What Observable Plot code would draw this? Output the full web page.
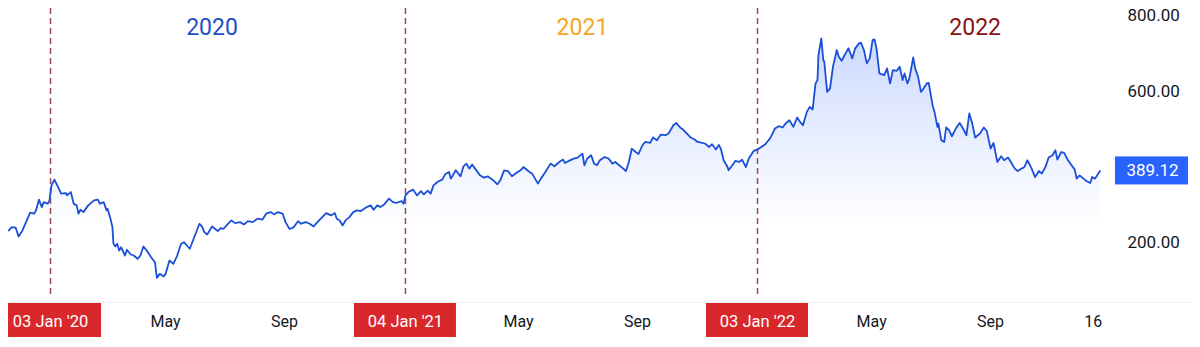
<!DOCTYPE html>
<html><head><meta charset="utf-8">
<script src="https://cdn.jsdelivr.net/npm/d3@7"></script>
<script src="https://cdn.jsdelivr.net/npm/@observablehq/plot@0.6"></script>
<style>
html,body{margin:0;padding:0;background:#fff;}
#chart{width:1200px;height:347px;overflow:hidden;}
</style></head><body><div id="chart"></div>
<script>
const dates = [
"2019-11-21","2019-11-24","2019-11-28","2019-12-01","2019-12-05","2019-12-08","2019-12-13","2019-12-17","2019-12-19","2019-12-22","2019-12-25","2019-12-27","2019-12-31",
"2020-01-02","2020-01-04","2020-01-07","2020-01-10","2020-01-14","2020-01-19","2020-01-20","2020-01-24","2020-01-27","2020-01-30",
"2020-02-01","2020-02-03","2020-02-06","2020-02-11","2020-02-17","2020-02-21","2020-02-23","2020-02-27",
"2020-03-01","2020-03-02","2020-03-05","2020-03-07","2020-03-08","2020-03-10","2020-03-12","2020-03-14","2020-03-16","2020-03-20","2020-03-22","2020-03-26","2020-03-29",
"2020-04-02","2020-04-05","2020-04-08","2020-04-12","2020-04-16","2020-04-20","2020-04-22","2020-04-25","2020-04-29",
"2020-05-01","2020-05-05","2020-05-09","2020-05-13","2020-05-17","2020-05-20","2020-05-23","2020-05-26","2020-05-30",
"2020-06-05","2020-06-08","2020-06-10","2020-06-13","2020-06-16","2020-06-18","2020-06-21","2020-06-24","2020-06-27","2020-06-30",
"2020-07-04","2020-07-08","2020-07-12","2020-07-17","2020-07-21","2020-07-25","2020-07-30",
"2020-08-04","2020-08-09","2020-08-13","2020-08-18","2020-08-21","2020-08-25","2020-08-30",
"2020-09-02","2020-09-06","2020-09-09","2020-09-11","2020-09-15","2020-09-18","2020-09-23","2020-09-27",
"2020-10-01","2020-10-05","2020-10-10","2020-10-14","2020-10-19","2020-10-23","2020-10-25","2020-10-28","2020-10-31",
"2020-11-03","2020-11-07","2020-11-11","2020-11-15","2020-11-19","2020-11-25","2020-11-29",
"2020-12-02","2020-12-06","2020-12-09","2020-12-13","2020-12-18","2020-12-22","2020-12-26","2020-12-31",
"2021-01-02","2021-01-04","2021-01-07","2021-01-12","2021-01-16","2021-01-20","2021-01-23","2021-01-27","2021-01-30",
"2021-02-02","2021-02-06","2021-02-11","2021-02-14","2021-02-18","2021-02-20","2021-02-25",
"2021-03-02","2021-03-05","2021-03-08","2021-03-11","2021-03-14","2021-03-17","2021-03-22","2021-03-26","2021-03-30",
"2021-04-04","2021-04-09","2021-04-12","2021-04-16","2021-04-20","2021-04-24","2021-04-30",
"2021-05-03","2021-05-06","2021-05-11","2021-05-15","2021-05-21","2021-05-24","2021-05-28",
"2021-06-03","2021-06-07","2021-06-12","2021-06-16","2021-06-18","2021-06-23","2021-06-27",
"2021-07-01","2021-07-06","2021-07-08","2021-07-11","2021-07-15","2021-07-18","2021-07-21","2021-07-24","2021-07-29",
"2021-08-02","2021-08-06","2021-08-09","2021-08-13","2021-08-16","2021-08-20","2021-08-23","2021-08-26","2021-08-30",
"2021-09-02","2021-09-06","2021-09-09","2021-09-14","2021-09-17","2021-09-21","2021-09-25","2021-09-30",
"2021-10-03","2021-10-08","2021-10-11","2021-10-15","2021-10-18","2021-10-22","2021-10-26","2021-10-30",
"2021-11-02","2021-11-07","2021-11-10","2021-11-14","2021-11-17","2021-11-21","2021-11-24","2021-11-26","2021-11-29",
"2021-12-03","2021-12-04","2021-12-08","2021-12-11","2021-12-15","2021-12-18","2021-12-22","2021-12-25","2021-12-30",
"2022-01-03","2022-01-07","2022-01-11","2022-01-16","2022-01-21","2022-01-25","2022-01-29",
"2022-02-01","2022-02-05","2022-02-09","2022-02-13","2022-02-16","2022-02-19","2022-02-23","2022-02-26",
"2022-03-01","2022-03-04","2022-03-06","2022-03-07","2022-03-10","2022-03-12","2022-03-13","2022-03-16","2022-03-19","2022-03-22","2022-03-26","2022-03-28","2022-03-31",
"2022-04-04","2022-04-07","2022-04-11","2022-04-14","2022-04-18","2022-04-20","2022-04-23","2022-04-26","2022-04-29",
"2022-05-02","2022-05-04","2022-05-06","2022-05-09","2022-05-14","2022-05-17","2022-05-20","2022-05-23","2022-05-27","2022-05-30",
"2022-06-02","2022-06-04","2022-06-07","2022-06-09","2022-06-13","2022-06-15","2022-06-18","2022-06-21","2022-06-23","2022-06-27","2022-06-29",
"2022-07-03","2022-07-05","2022-07-08","2022-07-09","2022-07-12","2022-07-15","2022-07-17","2022-07-20","2022-07-23","2022-07-27","2022-07-31",
"2022-08-04","2022-08-07","2022-08-10","2022-08-13","2022-08-16","2022-08-21","2022-08-25","2022-08-28",
"2022-09-01","2022-09-04","2022-09-08","2022-09-12","2022-09-15","2022-09-19","2022-09-22","2022-09-26","2022-09-29",
"2022-10-03","2022-10-06","2022-10-09","2022-10-13","2022-10-17","2022-10-21","2022-10-24","2022-10-28","2022-10-31",
"2022-11-04","2022-11-07","2022-11-09","2022-11-13","2022-11-16","2022-11-20","2022-11-23","2022-11-27","2022-11-29",
"2022-12-02","2022-12-06","2022-12-09","2022-12-13","2022-12-15","2022-12-18","2022-12-23"
];
const prices = [
231.8,240.6,239.0,215.9,231.8,249.6,278.7,276.1,284.8,313.2,293.6,306.8,302.6,
311.3,351.0,366.1,351.0,329.1,330.6,324.5,333.3,302.6,298.1,
276.1,286.7,280.3,298.1,311.3,313.2,302.6,306.8,
284.8,289.3,262.8,240.6,198.2,189.4,196.6,178.8,187.6,165.6,180.7,168.3,165.6,
156.9,165.6,189.4,177.0,161.1,147.9,106.5,117.1,110.0,
117.1,152.4,143.6,165.6,196.6,200.8,192.1,183.4,209.8,
249.6,240.6,227.3,221.2,233.7,242.4,236.3,230.0,237.9,236.3,
247.7,258.3,251.2,253.8,247.7,256.5,253.8,
262.8,260.2,276.1,280.3,274.2,280.3,276.1,
253.8,236.3,238.0,242.4,256.5,249.6,253.8,249.6,
242.4,253.8,267.1,277.7,271.6,277.7,262.8,258.3,245.1,
258.3,267.1,280.3,284.8,283.0,293.6,298.1,
286.7,298.1,293.6,300.7,315.8,306.8,305.0,309.4,
302.6,324.5,333.3,339.6,324.5,335.9,327.2,337.0,329.1,
351.0,359.8,366.1,380.2,386.3,368.8,390.8,
374.9,401.4,408.5,395.3,406.0,395.3,377.5,371.4,374.9,
366.1,353.7,364.3,390.8,388.9,374.9,386.3,
390.8,399.5,388.9,382.0,355.5,368.8,383.6,
408.5,401.4,412.8,419.1,410.1,417.0,421.8,
424.4,435.0,404.0,422.0,430.5,408.5,404.0,417.3,426.0,
421.8,408.5,412.8,404.0,397.9,388.9,412.8,448.3,439.2,
434.0,457.0,465.7,463.1,477.4,470.2,485.3,483.5,
488.0,510.0,516.1,503.9,498.6,488.0,477.4,472.1,
465.7,463.1,461.0,452.5,459.6,445.6,458.0,448.3,417.3,
399.5,390.8,404.0,415.4,412.8,419.1,399.5,421.8,441.9,
445.6,452.5,459.6,475.0,501.2,507.3,503.9,
514.5,523.2,505.5,530.4,518.7,510.0,545.2,558.5,
551.6,620.4,629.2,695.4,739.6,682.2,677.7,598.2,607.2,664.4,708.6,690.9,680.3,
699.9,713.2,686.7,713.2,726.4,728.0,708.6,673.4,686.7,
735.1,737.0,713.2,646.9,642.4,660.2,620.4,655.7,653.8,664.4,
629.2,646.9,620.4,633.7,689.3,660.2,637.9,598.2,604.5,620.4,622.0,
563.0,545.2,505.5,514.5,470.2,465.7,503.9,496.7,480.8,501.2,516.1,
498.6,483.5,541.0,514.5,477.4,488.0,503.9,494.9,
448.3,463.1,412.8,427.9,417.3,424.4,412.8,395.3,388.9,
395.3,399.5,417.3,397.9,373.0,388.9,382.0,401.4,424.4,
430.5,443.7,419.1,439.2,437.0,417.3,406.7,392.6,368.8,
377.5,368.8,362.4,357.1,373.0,368.8,389.12
];
const yearStarts = ["2020-01-03","2021-01-04","2022-01-03"];
const yearStartLabels = ["03 Jan '20","04 Jan '21","03 Jan '22"];
const yearTitles = ["2020","2021","2022"];
const yearTitleDates = ["2020-06-18","2021-07-06","2022-08-16"];
const yearTitleColors = ["#1d4fc6","#f5a623","#8b1111"];
const monthTicks = ["2020-05-01","2020-09-01","2021-05-01","2021-09-01","2022-05-01","2022-09-01","2022-12-16"];
const monthTickLabels = ["May","Sep","May","Sep","May","Sep","16"];
const yTicks = [200, 600, 800];
const lastPrice = 389.12;

const data = dates.map((d, i) => ({date: new Date(d), price: prices[i]}));
const tickLabelMap = new Map(monthTicks.map((d, i) => [+new Date(d), monthTickLabels[i]]));
const titles = yearTitles.map((t, i) => ({text: t, date: new Date(yearTitleDates[i]), color: yearTitleColors[i]}));
const starts = yearStarts.map((d, i) => ({date: new Date(d), text: yearStartLabels[i]}));
const font = "Roboto, 'Open Sans', sans-serif";

const plot = Plot.plot({
  width: 1200, height: 347,
  marginLeft: 0, marginRight: 95, marginTop: 0, marginBottom: 45,
  style: {fontFamily: font, fontSize: "16px", color: "#131722", background: "#fff", overflow: "visible"},
  x: {type: "utc", domain: [new Date("2019-11-12T07:00Z"), new Date("2022-12-28T19:00Z")],
      ticks: monthTicks.map(d => new Date(d)), tickFormat: d => tickLabelMap.get(+d),
      tickSize: 0, tickPadding: 13, label: null},
  y: {domain: [41.4, 839.6], axis: "right", ticks: yTicks, tickFormat: d => d.toFixed(2),
      tickSize: 0, tickPadding: 22, label: null},
  color: {type: "identity"},
  marks: [
    Plot.areaY(data, {x: "date", y: "price", fill: "url(#areaGrad)", clip: true}),
    Plot.ruleX(yearStarts.map(d => new Date(d)), {stroke: "#9c4b50", strokeWidth: 1.5, strokeDasharray: "6,4", insetTop: 8, insetBottom: 7}),
    Plot.lineY(data, {x: "date", y: "price", stroke: "#1b4fd8", strokeWidth: 1.8}),
    Plot.text(titles, {x: "date", text: "text", fill: "color", frameAnchor: "top", lineAnchor: "middle", textAnchor: "middle", dy: 27, fontSize: 23}),
    Plot.text(starts, {x: "date", text: "text", frameAnchor: "bottom", lineAnchor: "middle", textAnchor: "middle", dy: 19, fill: "white", fontSize: 16.5}),
    Plot.text([lastPrice], {y: d => d, text: d => d.toFixed(2), frameAnchor: "right", lineAnchor: "middle", textAnchor: "middle", dx: 47, fill: "white", fontSize: 17})
  ]
});

document.getElementById("chart").append(plot);
const xs = plot.scale("x"), ys = plot.scale("y");
const sel = d3.select(plot);
sel.selectAll("g[aria-label='y-axis tick label'] text, g[aria-label='y-axis tick label']").attr("font-size", 17);
const defs = sel.insert("defs", ":first-child");
const grad = defs.append("linearGradient").attr("id", "areaGrad")
  .attr("gradientUnits", "userSpaceOnUse").attr("x1", 0).attr("x2", 0)
  .attr("y1", ys.apply(740)).attr("y2", ys.apply(240));
grad.append("stop").attr("offset", 0).attr("stop-color", "#2962ff").attr("stop-opacity", 0.24);
grad.append("stop").attr("offset", 0.55).attr("stop-color", "#2962ff").attr("stop-opacity", 0.1);
grad.append("stop").attr("offset", 1).attr("stop-color", "#2962ff").attr("stop-opacity", 0);

// separator line between plot and time axis
const bottomY = ys.apply(ys.domain[0]);
sel.insert("line", "defs + *").attr("x1", 8).attr("x2", 1190).attr("y1", bottomY + 0.5).attr("y2", bottomY + 0.5)
  .attr("stroke", "#eef0f3").attr("stroke-width", 1);

// red boxes behind the year-start labels
const texts = Array.from(plot.querySelectorAll("text"));
const startG = texts.find(t => yearStartLabels.includes(t.textContent)).parentNode;
const boxG = document.createElementNS("http://www.w3.org/2000/svg", "g");
starts.forEach(s => {
  const cx = xs.apply(s.date);
  const x0 = Math.max(cx - 51, 8);
  const r = document.createElementNS("http://www.w3.org/2000/svg", "rect");
  r.setAttribute("x", x0); r.setAttribute("y", bottomY + 1);
  r.setAttribute("width", cx + 51 - x0); r.setAttribute("height", 34);
  r.setAttribute("fill", "#d9282c");
  boxG.append(r);
});
startG.parentNode.insertBefore(boxG, startG);

// blue price tag
const tagText = texts.filter(t => t.textContent === lastPrice.toFixed(2)).pop();
const tagParent = tagText.parentNode;
const py = ys.apply(lastPrice);
const tr = document.createElementNS("http://www.w3.org/2000/svg", "rect");
tr.setAttribute("x", 1115); tr.setAttribute("y", py - 14);
tr.setAttribute("width", 73); tr.setAttribute("height", 28);
tr.setAttribute("fill", "#2962ff");
tagParent.parentNode.insertBefore(tr, tagParent);
</script>
</body></html>
